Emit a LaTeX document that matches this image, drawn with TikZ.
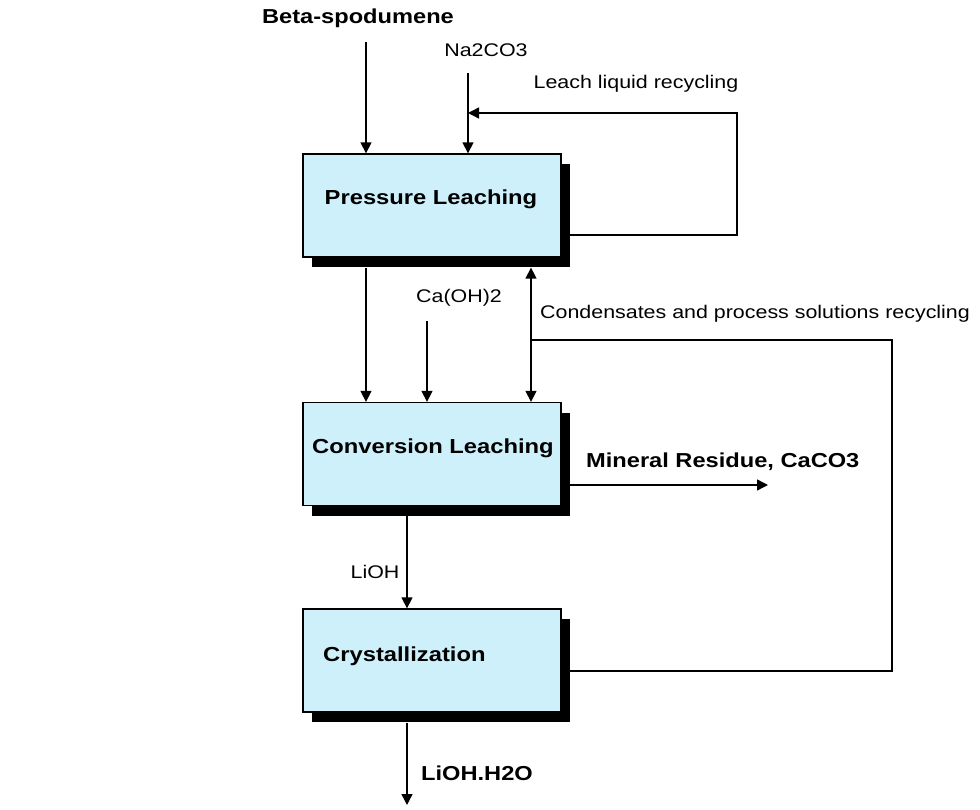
\documentclass[tikz,border=0pt]{standalone}
\usepackage{fontspec}
\setmainfont{Liberation Sans}[FakeStretch=1.17]
\usetikzlibrary{arrows.meta,shadows}
\definecolor{boxfill}{RGB}{206,240,250}
\begin{document}
\begin{tikzpicture}[x=1pt,y=-1pt,
  box/.style={draw=black, line width=1.3pt, fill=boxfill, minimum width=258pt, minimum height=103pt, inner sep=0pt,
    drop shadow={shadow xshift=9pt, shadow yshift=-10pt, fill=black, opacity=1}},
  boxtext/.style={inner sep=0pt, font=\fontsize{20.3}{24}\selectfont\bfseries},
  boldlbl/.style={inner sep=0pt, font=\fontsize{20.2}{24}\selectfont\bfseries},
  lbl/.style={inner sep=0pt, font=\fontsize{18.3}{22}\selectfont},
  arr/.style={-{Triangle[length=11pt,width=11pt]}, line width=1.4pt},
  ln/.style={line width=1.4pt}]
\fill[white] (0,0) rectangle (980,810);
\useasboundingbox (0,0) rectangle (980,810);

% boxes
\node[box] (pl) at (432,205.5) {};
\node[box] (cl) at (432,454) {};
\node[box] (cr) at (432,660.5) {};
\node[boxtext] (plt) at (431,199) {Pressure Leaching};
\node[boxtext] (clt) at (433,448) {Conversion Leaching};
\node[boxtext, anchor=west] (crt) at (323,656) {Crystallization};

% labels
\node[boldlbl] (bs) at (358,18) {Beta-spodumene};
\node[lbl] (na) at (486,50) {Na2CO3};
\node[lbl] (llr) at (636,84) {Leach liquid recycling};
\node[lbl] (caoh) at (459,298) {Ca(OH)2};
\node[lbl, anchor=west] (cond) at (540,314) {Condensates and process solutions recycling};
\node[boldlbl, anchor=west] (mr) at (586,462) {Mineral Residue, CaCO3};
\node[lbl] (lioh) at (375,572) {LiOH};
\node[boldlbl, anchor=west] (prod) at (421,773) {LiOH.H2O};

% coordinates
\coordinate (bsa) at (366,42);
\coordinate (naa) at (468,73);
\coordinate (caa) at (427,321);
\coordinate (plb) at ([yshift=-10pt]pl.south);
\coordinate (clb) at ([yshift=-10pt]cl.south);
\coordinate (crb) at ([yshift=-10pt]cr.south);
\coordinate (plo) at (570,235);
\coordinate (llc1) at (737,235);
\coordinate (llc2) at (737,113);
\coordinate (llin) at (468,113);
\coordinate (j) at (531,340);
\coordinate (cc1) at (892,340);
\coordinate (cc2) at (892,671);
\coordinate (cro) at (570,671);
\coordinate (clo) at (570,485);
\coordinate (mre) at (768,485);
\coordinate (lx) at (407,0);
\coordinate (out) at (407,805);

% connectors
\draw[arr] (bsa) -- (bsa |- pl.north);
\draw[arr] (naa) -- (naa |- pl.north);
\draw[arr] (plo) -- (llc1) -- (llc2) -- (llin);
\draw[arr] (bsa |- plb) -- (bsa |- cl.north);
\draw[arr] (caa) -- (caa |- cl.north);
\draw[arr] (j) -- (j |- plb);
\draw[arr] (j) -- (j |- cl.north);
\draw[ln] (cro) -- (cc2) -- (cc1) -- (j);
\draw[arr] (clo) -- (mre);
\draw[arr] (lx |- clb) -- (lx |- cr.north);
\draw[arr] (lx |- crb) -- (out);
\end{tikzpicture}
\end{document}
